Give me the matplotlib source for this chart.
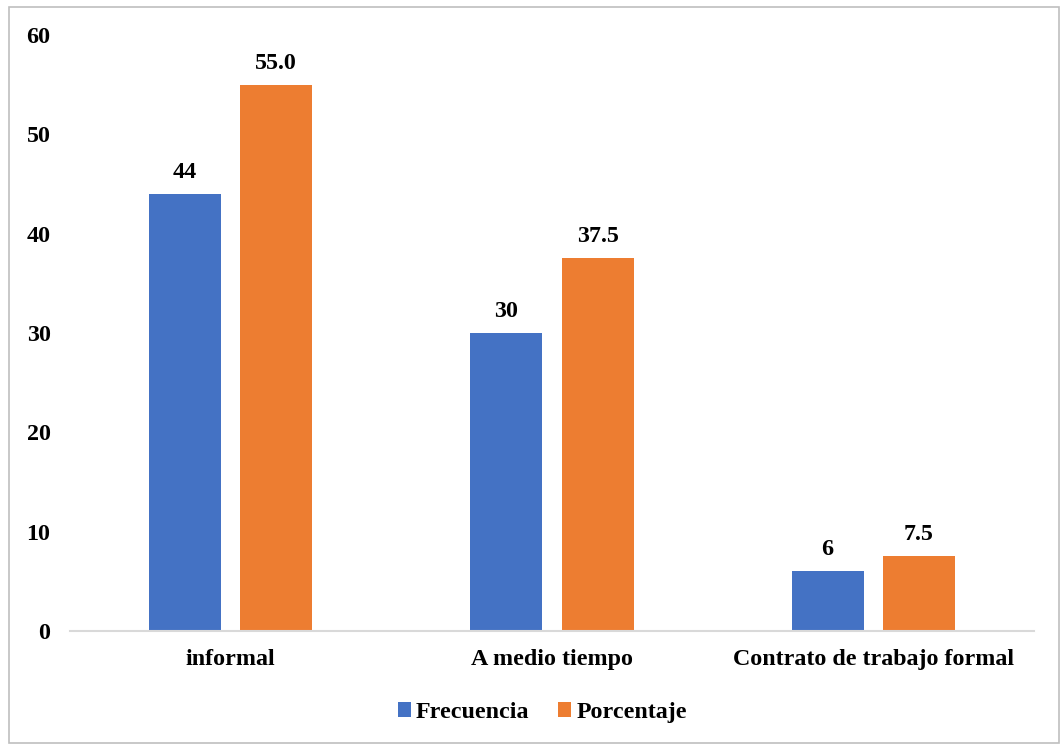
import matplotlib
matplotlib.use("Agg")
import matplotlib.pyplot as plt
import numpy as np
from matplotlib.patches import Rectangle

categories = ["informal", "A medio tiempo", "Contrato de trabajo formal"]
frecuencia = [44, 30, 6]
porcentaje = [55.0, 37.5, 7.5]
frec_labels = ["44", "30", "6"]
porc_labels = ["55.0", "37.5", "7.5"]
yticks = [0, 10, 20, 30, 40, 50, 60]

C_BLUE = "#4472C4"
C_ORANGE = "#ED7D31"
FS = 17.3

plt.rcParams["font.family"] = ["Liberation Serif", "DejaVu Serif"]
plt.rcParams["font.weight"] = "bold"

fig = plt.figure(figsize=(10.61, 7.44), dpi=100)
ax = fig.add_axes([0.066, 0.152, 0.9085, 0.801])

x = np.arange(len(categories))
w = 0.224
off = 0.142
b1 = ax.bar(x - off, frecuencia, w, color=C_BLUE, label="Frecuencia")
b2 = ax.bar(x + off, porcentaje, w, color=C_ORANGE, label="Porcentaje")

for bars, labs in ((b1, frec_labels), (b2, porc_labels)):
    for rect, lab in zip(bars, labs):
        ax.annotate(lab, (rect.get_x() + rect.get_width() / 2, rect.get_height()),
                    xytext=(0, 8), textcoords="offset points", ha="center", va="bottom",
                    fontsize=FS, fontweight="bold")

ax.set_xlim(-0.5, 2.5)
ax.set_ylim(0, 60)
ax.set_yticks(yticks)
ax.set_xticks(x)
ax.set_xticklabels(categories)
ax.tick_params(axis="y", length=0, pad=14, labelsize=FS)
ax.tick_params(axis="x", length=0, pad=13, labelsize=FS)
for s in ("top", "right", "left"):
    ax.spines[s].set_visible(False)
ax.spines["bottom"].set_color("#D9D9D9")
ax.spines["bottom"].set_linewidth(1.5)

ax.legend(loc="upper center", bbox_to_anchor=(0.49, -0.083), ncol=2, frameon=False,
          fontsize=FS, handlelength=0.55, handleheight=0.55, handletextpad=0.2,
          columnspacing=1.2)

fig.patches.append(Rectangle((0.0085, 0.002), 0.99, 0.9886, transform=fig.transFigure,
                             fill=False, edgecolor="#BFBFBF", linewidth=1.2))

fig.savefig("out.png", dpi=100)
